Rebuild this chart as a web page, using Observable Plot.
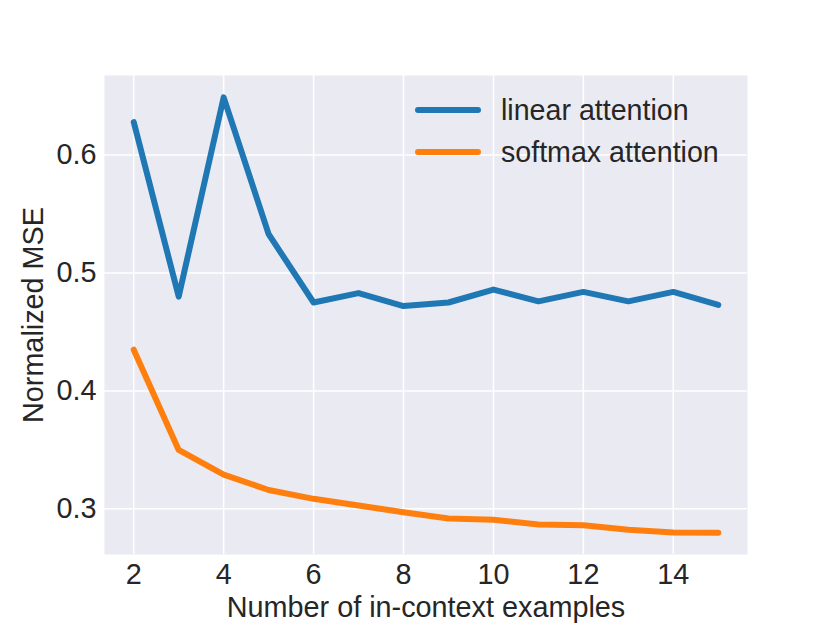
<!DOCTYPE html>
<html>
<head>
<meta charset="utf-8">
<script src="https://cdn.jsdelivr.net/npm/d3@7"></script>
<script src="https://cdn.jsdelivr.net/npm/@observablehq/plot@0.6"></script>
<style>
  html, body { margin: 0; padding: 0; background: #fff; }
  #wrap { position: relative; width: 830px; height: 623px; font-family: "Liberation Sans", Arial, sans-serif; }
  #legend { position: absolute; left: 415px; top: 89px; color: #262626; font-size: 28.6px; }
  .item { display: flex; align-items: center; height: 42px; }
  .swatch { width: 66px; height: 6.5px; border-radius: 3.3px; margin-right: 20px; }
</style>
</head>
<body>
<div id="wrap"></div>
<script>
const examples = [2, 3, 4, 5, 6, 7, 8, 9, 10, 11, 12, 13, 14, 15];
const linearMSE = [0.628, 0.480, 0.649, 0.533, 0.475, 0.483, 0.472, 0.475, 0.486, 0.476, 0.484, 0.476, 0.484, 0.473];
const softmaxMSE = [0.435, 0.350, 0.329, 0.316, 0.3085, 0.3028, 0.2971, 0.2918, 0.2907, 0.2867, 0.2861, 0.2822, 0.2799, 0.2797];
const seriesNames = ["linear attention", "softmax attention"];
const seriesColors = ["#1f77b4", "#ff7f0e"];
const xTicks = [2, 4, 6, 8, 10, 12, 14];
const yTicks = [0.3, 0.4, 0.5, 0.6];

const rows = [];
[linearMSE, softmaxMSE].forEach((vals, s) => {
  vals.forEach((v, i) => rows.push({ n: examples[i], mse: v, series: seriesNames[s] }));
});

const font = "Liberation Sans, Arial, sans-serif";
const textColor = "#262626";
const fs = 28.8;

const chart = Plot.plot({
  width: 830,
  height: 623,
  marginLeft: 104,
  marginRight: 83,
  marginTop: 75,
  marginBottom: 69,
  style: { fontFamily: font, background: "#fff", color: textColor },
  x: { domain: [1.35, 15.65] },
  y: { domain: [0.2613, 0.6675] },
  color: { domain: seriesNames, range: seriesColors },
  marks: [
    Plot.frame({ fill: "#eaeaf2", stroke: null }),
    Plot.gridX(xTicks, { stroke: "#fff", strokeOpacity: 1, strokeWidth: 1.5 }),
    Plot.gridY(yTicks, { stroke: "#fff", strokeOpacity: 1, strokeWidth: 1.5 }),
    Plot.axisX(xTicks, { tickSize: 0, tickPadding: 9, fontSize: fs, fill: textColor,
      label: "Number of in-context examples", labelAnchor: "center", labelArrow: "none", labelOffset: 62 }),
    Plot.axisY(yTicks, { tickSize: 0, tickPadding: 8, fontSize: fs, fill: textColor, tickFormat: d3.format(".1f"),
      label: "Normalized MSE", labelAnchor: "center", labelArrow: "none", labelOffset: 82 }),
    Plot.line(rows, { x: "n", y: "mse", z: "series", stroke: "series", strokeWidth: 6,
      strokeLinecap: "round", strokeLinejoin: "round" })
  ]
});

const wrap = document.getElementById("wrap");
wrap.appendChild(chart);
const legend = document.createElement("div");
legend.id = "legend";
seriesNames.forEach((name, i) => {
  const item = document.createElement("div");
  item.className = "item";
  const sw = document.createElement("div");
  sw.className = "swatch";
  sw.style.background = seriesColors[i];
  const label = document.createElement("span");
  label.textContent = name;
  item.appendChild(sw);
  item.appendChild(label);
  legend.appendChild(item);
});
wrap.appendChild(legend);
</script>
</body>
</html>
